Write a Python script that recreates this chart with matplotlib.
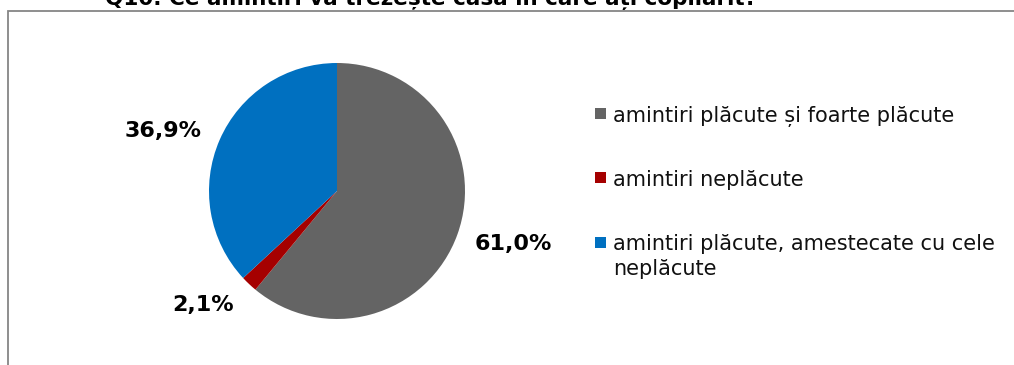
import matplotlib.pyplot as plt
from matplotlib.patches import Rectangle

title = 'Q10. Ce amintiri vă trezește casa în care ați copilărit?'
categories = ['amintiri plăcute și foarte plăcute',
              'amintiri neplăcute',
              'amintiri plăcute, amestecate cu cele\nneplăcute']
values = [61.0, 2.1, 36.9]
colors = ['#646464', '#A50000', '#0070C0']

W, H = 1014, 365
fig = plt.figure(figsize=(W / 100, H / 100), dpi=100)


def fx(x):
    return x / W


def fy(y):
    return 1 - y / H


# chart frame, only top and left edges fall inside the image
fig.patches.append(Rectangle((fx(8), fy(400)), fx(1100), fy(11) - fy(400),
                             transform=fig.transFigure, fill=False,
                             edgecolor='#868686', linewidth=1.3))

fig.text(fx(431), fy(5), title, ha='center', va='baseline',
         fontsize=15.5, fontweight='bold', family='DejaVu Sans')

# pie: centre (337, 191), radius 128 px
r = 128
ax = fig.add_axes([fx(337 - r), fy(191 + r), fx(2 * r), fy(191 - r) - fy(191 + r)])
wedges, _ = ax.pie(values, colors=colors, startangle=90, counterclock=False,
                   wedgeprops=dict(linewidth=0))
ax.set_aspect('equal')
ax.set_xlim(-1, 1)
ax.set_ylim(-1, 1)
ax.axis('off')

label_pos = [(513, 244), (203, 305), (163, 131)]
for v, (x, y) in zip(values, label_pos):
    fig.text(fx(x), fy(y), f'{v:.1f}%'.replace('.', ','), ha='center', va='center',
             fontsize=16, fontweight='bold')

# legend: square key + text, wrapped labels continue on the next line
legend_y = [114, 177.5, 242]
key = 11
for cat, col, y in zip(categories, colors, legend_y):
    fig.patches.append(Rectangle((fx(595), fy(y + key / 2)), fx(key), fy(0) - fy(key),
                                 transform=fig.transFigure, facecolor=col,
                                 edgecolor='none'))
    for i, line in enumerate(cat.split('\n')):
        fig.text(fx(613), fy(y + 8 + i * 25), line, ha='left', va='baseline',
                 fontsize=15, color='#111111')

fig.savefig('out.png', dpi=100)
